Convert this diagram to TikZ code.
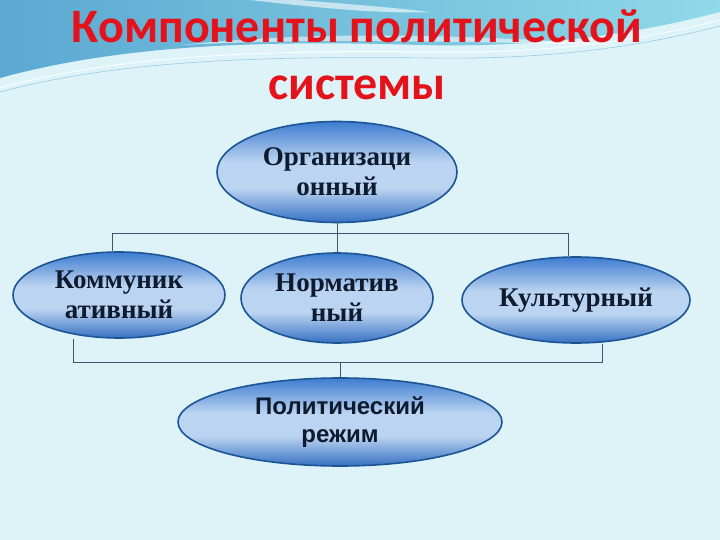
\documentclass[tikz,border=0pt]{standalone}
\usepackage{fontspec}
\setmainfont{Liberation Serif}
\newfontfamily\titlefont{Carlito}
\newfontfamily\regimefont{Liberation Sans}
\usepackage{tikz}
\usetikzlibrary{positioning, shapes.geometric}
\definecolor{slidebg}{HTML}{DDF3F8}
\definecolor{wavedark}{HTML}{5BA9D2}
\definecolor{wavelight}{HTML}{8FD9E8}
\definecolor{ovaltop}{HTML}{3E7CD0}
\definecolor{ovalmid}{HTML}{BBD4F1}
\definecolor{ovalbot}{HTML}{3670C2}
\definecolor{ovalborder}{HTML}{1C5596}
\definecolor{ovaltext}{HTML}{0E1A2E}
\definecolor{linkgray}{HTML}{3C5570}
\definecolor{titlered}{HTML}{E4121B}
\pgfdeclareverticalshading{ovalshade}{100bp}{
    color(0bp)=(ovalbot); color(25bp)=(ovalbot); color(42bp)=(ovalmid);
    color(55bp)=(ovalmid); color(75bp)=(ovaltop); color(100bp)=(ovaltop)}
\tikzset{
    ovalbox/.style={
        ellipse,
        draw=ovalborder,
        line width=1.6pt,
        shading=ovalshade,
        text=ovaltext,
        inner sep=0pt,
        align=center,
        font=\fontsize{27}{30}\selectfont\bfseries
    },
    titletext/.style={
        text=titlered,
        font=\titlefont\fontsize{48}{56}\selectfont\bfseries,
        anchor=base
    },
    linkline/.style={
        draw=linkgray,
        line width=0.9pt
    }
}

\begin{document}
\begin{tikzpicture}[x=1pt, y=-1pt]
    \useasboundingbox (0,0) rectangle (720,540);
    \fill[slidebg] (0,0) rectangle (720,540);

    % top waves
    \shade[left color=wavedark, right color=wavelight]
        (0,0) -- (0,78) .. controls (120,45) and (260,40) .. (420,45)
        .. controls (560,48) and (650,30) .. (720,12) -- (720,0) -- cycle;
    \fill[white, opacity=0.55]
        (180,45) .. controls (320,30) and (470,35) .. (620,45)
        .. controls (470,42) and (320,38) .. (180,45) -- cycle;
    \fill[white, opacity=0.6]
        (250,0) .. controls (320,8) and (380,14) .. (430,12)
        .. controls (380,6) and (320,2) .. (300,0) -- cycle;
    \draw[white, line width=1pt, opacity=0.8]
        (0,88) .. controls (120,55) and (260,50) .. (430,52)
        .. controls (560,54) and (650,38) .. (720,20);
    \draw[wavedark!80, line width=0.6pt, opacity=0.7]
        (0,92) .. controls (120,60) and (260,56) .. (430,58)
        .. controls (560,60) and (650,44) .. (720,26);

    \node[titletext] (title) at (357,43) {Компоненты политической};
    \node[titletext] (subtitle) at (357,100) {системы};

    \node[ovalbox, minimum width=240pt, minimum height=101pt] (org) at (337,172) {Организаци\\онный};
    \node[ovalbox, minimum width=212pt, minimum height=86pt] (comm) at (119,295) {Коммуник\\ативный};
    \node[ovalbox, minimum width=192pt, minimum height=90pt] (norm) at (337,298) {Норматив\\ный};
    \node[ovalbox, minimum width=228pt, minimum height=86pt] (cult) at (576,300) {Культурный};
    \node[ovalbox, minimum width=324pt, minimum height=88pt,
          font=\regimefont\fontsize{24}{28}\selectfont\bfseries] (regime) at (340,422) {Политический\\режим};

    \coordinate (topL) at (112,233);
    \coordinate (topR) at (568,233);
    \coordinate (botL) at (73,362);
    \coordinate (botR) at (602,362);

    \draw[linkline] (org) -- (norm);
    \draw[linkline] (topL |- comm.north) -- (topL) -- (topR) -- (topR |- cult.north);
    \draw[linkline] (botL |- comm.south) -- (botL) -- (botR) -- (botR |- cult.south);
    \draw[linkline] (regime.north) -- (regime.north |- botL);
\end{tikzpicture}
\end{document}
